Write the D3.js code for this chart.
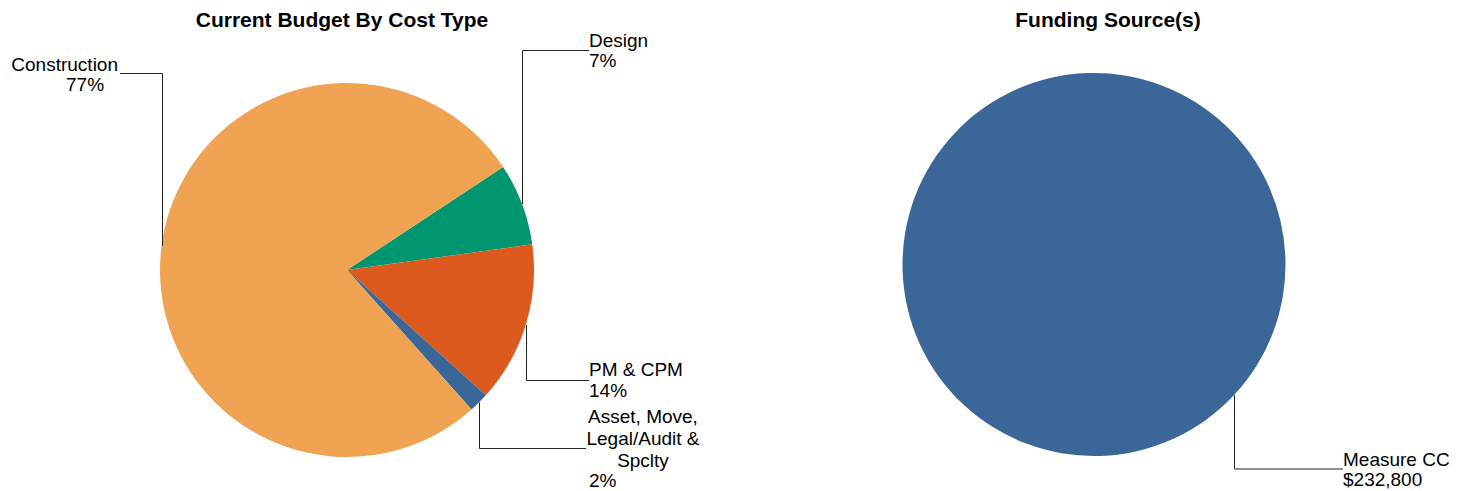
<!DOCTYPE html>
<html>
<head>
<meta charset="utf-8">
<script src="https://cdn.jsdelivr.net/npm/d3@7"></script>
<style>
  html, body { margin: 0; padding: 0; background: #fff; }
  svg { display: block; font-family: "Liberation Sans", Arial, sans-serif; }
</style>
</head>
<body>
<svg id="chart" width="1466" height="491"></svg>
<script>
// Budget split by cost type (dollars)
const costTypes = ["Design", "PM & CPM", "Asset, Move, Legal/Audit & Spclty", "Construction"];
const costAmounts = [16500, 32300, 4000, 180000];
const costColors = ["#00966f", "#dd5a1f", "#3b6698", "#efa352"];

// Funding sources (dollars)
const fundingSources = ["Measure CC"];
const fundingAmounts = [232800];
const fundingColors = ["#3b6698"];

const svg = d3.select("#chart");
const deg = Math.PI / 180;

// Multi-line names for long category labels
const nameLines = {
  "Asset, Move, Legal/Audit & Spclty": ["Asset, Move,", "Legal/Audit &", "Spclty"]
};

function drawPie(opts) {
  const g = svg.append("g");
  const total = d3.sum(opts.values);
  const pie = d3.pie().sort(null).value(d => d)
    .startAngle(opts.startAngle).endAngle(opts.startAngle + 2 * Math.PI);
  const arcs = pie(opts.values);
  const arc = d3.arc().innerRadius(0).outerRadius(opts.r);

  g.append("text")
    .attr("x", opts.titleX).attr("y", 27)
    .attr("text-anchor", "middle")
    .attr("font-weight", "bold").attr("font-size", 21)
    .attr("fill", "#000")
    .text(opts.title);

  const pg = g.append("g").attr("transform", `translate(${opts.cx},${opts.cy})`);
  pg.selectAll("path").data(arcs).join("path")
    .attr("d", arc)
    .attr("fill", (d, i) => opts.colors[i]);

  arcs.forEach((a, i) => {
    const L = opts.labels[i];
    const mid = (a.startAngle + a.endAngle) / 2;
    const sx = opts.cx + opts.r * Math.sin(mid);
    const sy = opts.cy - opts.r * Math.cos(mid);
    const vx = Math.round(sx) + 0.5;
    g.append("path")
      .attr("d", `M${vx},${sy}V${L.lineY}H${L.lineX}`)
      .attr("fill", "none").attr("stroke", "#222").attr("stroke-width", 1);

    const name = opts.names[i];
    const lines = nameLines[name] || [name];
    lines.forEach((t, k) => {
      g.append("text")
        .attr("x", L.nameX).attr("y", L.nameY + k * L.step)
        .attr("text-anchor", L.nameAnchor)
        .attr("font-size", 19).attr("fill", "#000")
        .text(t);
    });
    g.append("text")
      .attr("x", L.valueX).attr("y", L.valueY)
      .attr("text-anchor", "start")
      .attr("font-size", 19).attr("fill", "#000")
      .text(opts.format(opts.values[i], total));
  });
}

drawPie({
  title: "Current Budget By Cost Type", titleX: 342,
  cx: 347, cy: 270, r: 187, startAngle: 56.6 * deg,
  names: costTypes, values: costAmounts, colors: costColors,
  format: (v, t) => Math.round(v / t * 100) + "%",
  labels: [
    { lineY: 50.5, lineX: 589, nameX: 589, nameY: 47, nameAnchor: "start", step: 20, valueX: 589, valueY: 67 },
    { lineY: 380.5, lineX: 589, nameX: 589, nameY: 376, nameAnchor: "start", step: 20, valueX: 589, valueY: 397 },
    { lineY: 448.5, lineX: 586, nameX: 643, nameY: 423, nameAnchor: "middle", step: 22, valueX: 589, valueY: 487 },
    { lineY: 73.5, lineX: 120, nameX: 118, nameY: 70.5, nameAnchor: "end", step: 20, valueX: 66, valueY: 90.5 }
  ]
});

drawPie({
  title: "Funding Source(s)", titleX: 1108,
  cx: 1094, cy: 264.5, r: 191.5, startAngle: -47 * deg,
  names: fundingSources, values: fundingAmounts, colors: fundingColors,
  format: v => d3.format("$,")(v),
  labels: [
    { lineY: 469, lineX: 1343, nameX: 1343, nameY: 466, nameAnchor: "start", step: 20, valueX: 1343, valueY: 485.5 }
  ]
});
</script>
</body>
</html>
